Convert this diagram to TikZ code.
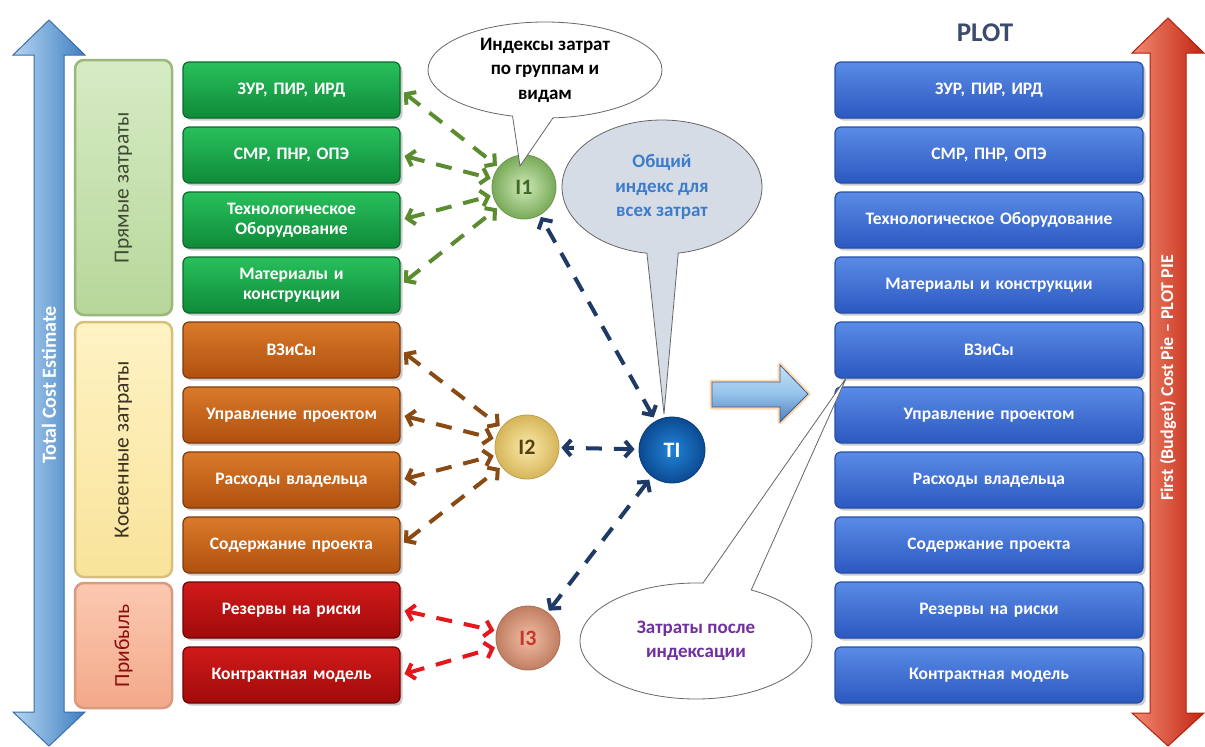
\documentclass[tikz,border=0pt]{standalone}
\usepackage{fontspec}
\setmainfont{Carlito}
\usetikzlibrary{shapes.callouts,shapes.geometric,arrows.meta,shadows,calc}
\definecolor{grnA}{HTML}{28C05C}
\definecolor{grnB}{HTML}{0F8A39}
\definecolor{grnD}{HTML}{0B6A2C}
\definecolor{orA}{HTML}{D97A2A}
\definecolor{orB}{HTML}{B0500F}
\definecolor{orD}{HTML}{7F3A0C}
\definecolor{rdA}{HTML}{D11A1A}
\definecolor{rdB}{HTML}{A00A0A}
\definecolor{rdD}{HTML}{6E0505}
\definecolor{blA}{HTML}{5A8BE6}
\definecolor{blB}{HTML}{2B58C0}
\definecolor{blD}{HTML}{2450A8}
\definecolor{lblA}{HTML}{B5D5F2}
\definecolor{lblB}{HTML}{7DB3E6}
\definecolor{lblC}{HTML}{3F7FC2}
\definecolor{lblD}{HTML}{3A6EA8}
\definecolor{rarA}{HTML}{F28A70}
\definecolor{rarB}{HTML}{E8452C}
\definecolor{rarC}{HTML}{C22512}
\definecolor{rarD}{HTML}{B02010}
\definecolor{plotc}{HTML}{3B4C6B}
\definecolor{garr}{HTML}{5B8C2F}
\definecolor{barr}{HTML}{8A4A14}
\definecolor{rarr}{HTML}{E5171C}
\definecolor{narr}{HTML}{1F3A66}
\definecolor{cblue}{HTML}{3D7CC9}
\definecolor{cpurp}{HTML}{7030A0}
\definecolor{bubgray}{HTML}{D5DCE6}
\begin{document}
\begin{tikzpicture}[x=1pt,y=-1pt,
 cbox/.style={rounded corners=6pt, minimum width=217pt, minimum height=56pt, text width=210pt, align=center, inner sep=0pt, font=\bfseries\fontsize{17.5}{20}\selectfont, text=white, line width=1.2pt, drop shadow={opacity=.4, shadow xshift=2.5pt, shadow yshift=-2.5pt}},
 gbox/.style={cbox, top color=grnA, bottom color=grnB, draw=grnD},
 obox/.style={cbox, top color=orA, bottom color=orB, draw=orD},
 rbox/.style={cbox, top color=rdA, bottom color=rdB, draw=rdD},
 bbox/.style={cbox, minimum width=308pt, text width=300pt, top color=blA, bottom color=blB, draw=blD},
 catbox/.style={rounded corners=9pt, minimum width=97pt, line width=2.5pt},
 cattext/.style={rotate=90, font=\fontsize{21.5}{24}\selectfont},
 ball/.style={circle, minimum size=64pt, inner sep=0pt, font=\bfseries\fontsize{22}{24}\selectfont, line width=0.8pt},
 link/.style={line width=4pt, dash pattern=on 16pt off 12pt, arrows={Straight Barb[length=7pt,width=16pt]-Straight Barb[length=7pt,width=16pt]}, shorten <=4pt, shorten >=2pt},
 bubble/.style={ellipse callout, draw=gray!80!black, line width=0.8pt, align=center, font=\bfseries\fontsize{19}{24.5}\selectfont, inner sep=0pt},
 arrowtext/.style={rotate=90, text=white, font=\bfseries\fontsize{20}{22}\selectfont}
]
\useasboundingbox (0,0) rectangle (1205,747);
\fill[white] (0,0) rectangle (1205,747);

% left vertical double arrow
\draw[draw=lblD, line width=1pt, left color=lblA, middle color=lblB, right color=lblC]
 (34,55) -- (13,55) -- (49,20) -- (85,55) -- (64,55) -- (64,712) -- (85,712) -- (49,746) -- (13,712) -- (34,712) -- cycle;
\node[arrowtext] (tce) at (49,385) {Total Cost Estimate};

% right vertical double arrow
\draw[draw=rarD, line width=1pt, left color=rarA, middle color=rarB, right color=rarC]
 (1150,53) -- (1132,53) -- (1168,18) -- (1204,53) -- (1186,53) -- (1186,713) -- (1204,713) -- (1168,746) -- (1132,713) -- (1150,713) -- cycle;
\node[arrowtext, font=\bfseries\fontsize{18}{20}\selectfont] (fbc) at (1168,378) {First (Budget) Cost Pie – PLOT PIE};

% category boxes
\node[catbox, minimum height=255pt, top color={rgb,255:red,214;green,235;blue,196}, bottom color={rgb,255:red,183;green,215;blue,154}, draw={rgb,255:red,154;green,183;blue,124}] (k1) at (123.5,187.5) {};
\node[cattext, text={rgb,255:red,63;green,74;blue,53}] (k1t) at (k1) {Прямые затраты};
\node[catbox, minimum height=255pt, top color={rgb,255:red,255;green,243;blue,196}, bottom color={rgb,255:red,249;green,227;blue,154}, draw={rgb,255:red,214;green,192;blue,122}] (k2) at (123.5,449.5) {};
\node[cattext, text={rgb,255:red,58;green,48;blue,32}] (k2t) at (k2) {Косвенные затраты};
\node[catbox, minimum height=125pt, top color={rgb,255:red,251;green,201;blue,176}, bottom color={rgb,255:red,243;green,169;blue,138}, draw={rgb,255:red,217;green,154;blue,128}] (k3) at (123.5,645.5) {};
\node[cattext, text={rgb,255:red,139;green,14;blue,14}] (k3t) at (k3) {Прибыль};

% left cost boxes
\node[gbox] (L1) at (291.5,90) {ЗУР, ПИР, ИРД};
\node[gbox] (L2) at (291.5,155) {СМР, ПНР, ОПЭ};
\node[gbox] (L3) at (291.5,220) {Технологическое\\Оборудование};
\node[gbox] (L4) at (291.5,285) {Материалы и\\конструкции};
\node[obox] (L5) at (291.5,350) {ВЗиСы};
\node[obox] (L6) at (291.5,415) {Управление проектом};
\node[obox] (L7) at (291.5,480) {Расходы владельца};
\node[obox] (L8) at (291.5,545) {Содержание проекта};
\node[rbox] (L9) at (291.5,610) {Резервы на риски};
\node[rbox] (L10) at (291.5,675) {Контрактная модель};

% right PLOT boxes
\node[font=\bfseries\fontsize{27}{30}\selectfont, text=plotc] (plot) at (985,33) {PLOT};
\node[bbox] (R1) at (989,90) {ЗУР, ПИР, ИРД};
\node[bbox] (R2) at (989,155) {СМР, ПНР, ОПЭ};
\node[bbox] (R3) at (989,220) {Технологическое Оборудование};
\node[bbox] (R4) at (989,285) {Материалы и конструкции};
\node[bbox] (R5) at (989,350) {ВЗиСы};
\node[bbox] (R6) at (989,415) {Управление проектом};
\node[bbox] (R7) at (989,480) {Расходы владельца};
\node[bbox] (R8) at (989,545) {Содержание проекта};
\node[bbox] (R9) at (989,610) {Резервы на риски};
\node[bbox] (R10) at (989,675) {Контрактная модель};

% index balls
\node[ball, inner color={rgb,255:red,206;green,232;blue,184}, outer color={rgb,255:red,120;green,170;blue,88}, draw={rgb,255:red,110;green,150;blue,80}, text={rgb,255:red,61;green,107;blue,36}] (I1) at (524,187) {I1};
\node[ball, inner color={rgb,255:red,250;green,234;blue,170}, outer color={rgb,255:red,214;green,181;blue,90}, draw={rgb,255:red,190;green,160;blue,80}, text={rgb,255:red,90;green,64;blue,16}] (I2) at (527,447) {I2};
\node[ball, minimum size=66pt, inner color={rgb,255:red,34;green,132;blue,216}, outer color={rgb,255:red,11;green,74;blue,146}, draw={rgb,255:red,10;green,60;blue,120}, text=white] (TI) at (672,450) {TI};
\node[ball, inner color={rgb,255:red,242;green,190;blue,166}, outer color={rgb,255:red,192;green,126;blue,98}, draw={rgb,255:red,170;green,110;blue,85}, text={rgb,255:red,192;green,57;blue,43}] (I3) at (528,638) {I3};

% dashed links
\foreach \i in {1,...,4} \draw[link, draw=garr] (L\i.east) -- (I1);
\foreach \i in {5,...,8} \draw[link, draw=barr] (L\i.east) -- (I2);
\foreach \i in {9,10} \draw[link, draw=rarr] (L\i.east) -- (I3);
\draw[link, draw=narr] (TI) -- (I1);
\draw[link, draw=narr] (TI) -- (I2);
\draw[link, draw=narr] (TI) -- (I3);

% big right arrow
\draw[draw=orange!30, line width=5pt, line join=round]
 (712,382) -- (780,382) -- (780,365) -- (808,394) -- (780,422) -- (780,407) -- (712,407) -- cycle;
\draw[draw={rgb,255:red,58;green,95;blue,143}, line width=0.8pt, top color={rgb,255:red,200;green,225;blue,245}, bottom color={rgb,255:red,80;green,125;blue,185}, middle color={rgb,255:red,150;green,195;blue,235}]
 (712,382) -- (780,382) -- (780,365) -- (808,394) -- (780,422) -- (780,407) -- (712,407) -- cycle;

% callouts
\coordinate (p1) at (520,166);
\coordinate (p2) at (664,414);
\coordinate (p3) at ($(R5.south west)+(12,-1)$);
\node[bubble, fill=white, minimum width=234pt, minimum height=96pt, callout absolute pointer={(p1)}, callout pointer arc=20] (c1) at (545,70) {Индексы затрат\\по группам и\\видам};
\node[bubble, fill=bubgray, text=cblue, minimum width=200pt, minimum height=134pt, callout absolute pointer={(p2)}, callout pointer arc=18] (c2) at (662,187) {Общий\\индекс для\\всех затрат};
\node[bubble, fill=white, text=cpurp, minimum width=232pt, minimum height=116pt, callout absolute pointer={(p3)}, callout pointer arc=25] (c3) at (696,641) {Затраты после\\индексации};
\end{tikzpicture}
\end{document}
